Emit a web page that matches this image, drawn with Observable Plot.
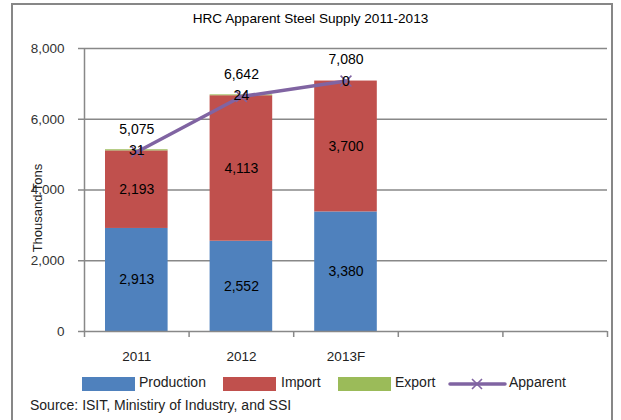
<!DOCTYPE html>
<html>
<head>
<meta charset="utf-8">
<script src="https://cdn.jsdelivr.net/npm/d3@7"></script>
<script src="https://cdn.jsdelivr.net/npm/@observablehq/plot@0.6"></script>
<style>
  html, body { margin: 0; padding: 0; background: #fff; }
  body { width: 621px; height: 420px; position: relative; overflow: hidden; font-family: "Liberation Sans", Arial, sans-serif; }
  #frame { position: absolute; left: 11px; top: 3px; width: 602px; height: 430px; border: 2px solid #878787; box-sizing: border-box; }
  #title { position: absolute; left: 0; top: 11px; width: 621px; text-align: center; font-size: 13.6px; color: #000; }
  #chart { position: absolute; left: 0; top: 0; }
  #ylabel { position: absolute; left: 37px; top: 208px; transform: translate(-50%, -50%) rotate(-90deg); font-size: 13px; color: #222; white-space: nowrap; }
  .leg { position: absolute; font-size: 14px; color: #222; white-space: nowrap; }
  .sw { position: absolute; width: 53px; height: 14px; top: 377px; }
  #source { position: absolute; left: 30px; top: 397px; font-size: 14px; color: #222; white-space: nowrap; }
</style>
</head>
<body>
<div id="frame"></div>
<div id="title"></div>
<div id="chart"></div>
<div id="ylabel"></div>
<div id="legend"></div>
<div id="source"></div>
<script>
// ---- Data ----
const title = "HRC Apparent Steel Supply 2011-2013";
const yLabel = "Thousand Tons";
const source = "Source: ISIT, Ministiry of Industry, and SSI";
const years = ["2011", "2012", "2013F"];
const slotCount = 5; // category slots on the axis (two are empty)
const production = [2913, 2552, 3380];
const importVals = [2193, 4113, 3700];
const exportVals = [31, 24, 0];
const apparent = [5075, 6642, 7080];
const seriesNames = ["Production", "Import", "Export"];
const lineName = "Apparent";
const seriesColors = ["#4F81BD", "#C0504D", "#9BBB59"];
const lineColor = "#8064A2";
const yTicks = [0, 2000, 4000, 6000, 8000];

// ---- Build stacked rows ----
const seriesVals = [production, importVals, exportVals];
const rows = [];
years.forEach((yr, i) => {
  let base = 0;
  seriesVals.forEach((vals, s) => {
    const v = vals[i];
    rows.push({year: yr, i, series: seriesNames[s], value: v, y1: base, y2: base + v});
    base += v;
  });
});
const appRows = years.map((yr, i) => ({year: yr, i, value: apparent[i]}));
const fmt = d3.format(",");

const plot = Plot.plot({
  width: 621,
  height: 368,
  marginLeft: 84,
  marginRight: 14,
  marginTop: 48,
  marginBottom: 37,
  style: {fontFamily: "'Liberation Sans', Arial, sans-serif", fontSize: "13.5px", background: "transparent", color: "#222"},
  x: {type: "linear", domain: [0, slotCount]},
  y: {domain: [yTicks[0], yTicks[yTicks.length - 1]]},
  color: {domain: seriesNames, range: seriesColors},
  marks: [
    Plot.ruleY(yTicks.filter(v => v > 0), {stroke: "#888", strokeWidth: 1.5}),
    Plot.rectY(rows, {x1: d => d.i, x2: d => d.i + 1, y1: "y1", y2: "y2", fill: "series", insetLeft: 21, insetRight: 21}),
    Plot.ruleX([0], {stroke: "#888", strokeWidth: 1.5}),
    Plot.ruleY([0], {stroke: "#888", strokeWidth: 1.5}),
    Plot.axisY({ticks: yTicks, tickSize: 6, tickPadding: 14, tickFormat: fmt, stroke: "#888", strokeWidth: 1.5, fill: "#333", label: null}),
    Plot.axisX({ticks: d3.range(slotCount + 1), tickSize: 6, tickFormat: () => "", stroke: "#888", strokeWidth: 1.5, label: null}),
    Plot.axisX({ticks: years.map((y, i) => i + 0.5), tickSize: 0, tickPadding: 20, tickFormat: d => years[Math.floor(d)], fill: "#222", label: null}),
    Plot.line(appRows, {x: d => d.i + 0.5, y: "value", stroke: lineColor, strokeWidth: 3.5}),
    Plot.dot(appRows, {x: d => d.i + 0.5, y: "value", symbol: "times", r: 5, stroke: lineColor, strokeWidth: 1.5}),
    Plot.text(rows, {x: d => d.i + 0.5, y: d => (d.y1 + d.y2) / 2, text: d => fmt(d.value), fill: "#000", fontSize: 14}),
    Plot.text(appRows, {x: d => d.i + 0.5, y: "value", text: d => fmt(d.value), dy: -22, fill: "#000", fontSize: 14})
  ]
});
document.getElementById("chart").appendChild(plot);

document.getElementById("title").textContent = title;
document.getElementById("ylabel").textContent = yLabel;
document.getElementById("source").textContent = source;

// ---- Legend ----
const legend = document.getElementById("legend");
const swatchX = [82, 223, 338];
const textX = [139, 281, 395];
seriesNames.forEach((name, k) => {
  const sw = document.createElement("div");
  sw.className = "sw";
  sw.style.left = swatchX[k] + "px";
  sw.style.background = seriesColors[k];
  legend.appendChild(sw);
  const t = document.createElement("div");
  t.className = "leg";
  t.style.left = textX[k] + "px";
  t.style.top = "374px";
  t.textContent = name;
  legend.appendChild(t);
});
const ns = "http://www.w3.org/2000/svg";
const ls = document.createElementNS(ns, "svg");
ls.setAttribute("width", 60); ls.setAttribute("height", 16);
ls.style.position = "absolute"; ls.style.left = "448px"; ls.style.top = "376px";
ls.innerHTML = `<line x1="2" y1="8" x2="57" y2="8" stroke="${lineColor}" stroke-width="3.5" stroke-linecap="round"/>
<path d="M24,3 L34,13 M34,3 L24,13" stroke="${lineColor}" stroke-width="1.6"/>`;
legend.appendChild(ls);
const lt = document.createElement("div");
lt.className = "leg"; lt.style.left = "509px"; lt.style.top = "374px"; lt.textContent = lineName;
legend.appendChild(lt);
</script>
</body>
</html>
